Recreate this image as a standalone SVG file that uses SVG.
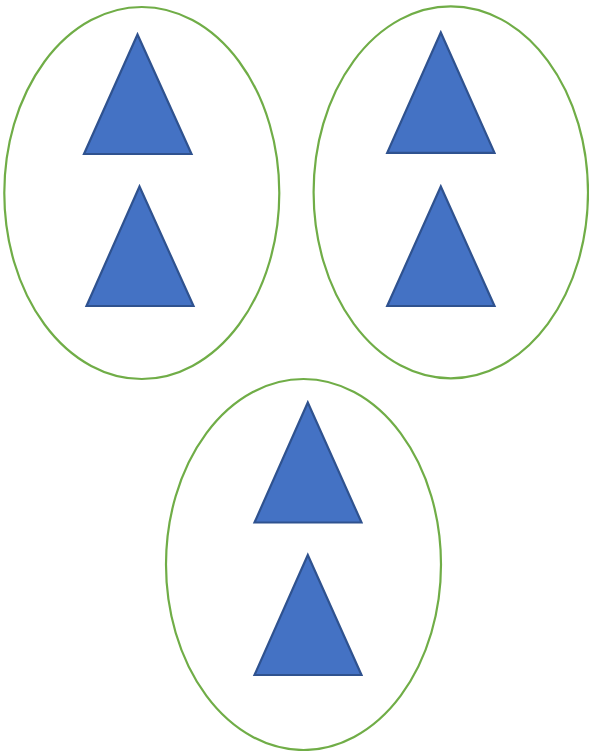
<svg xmlns="http://www.w3.org/2000/svg" width="589" height="751" viewBox="0 0 589 751">
<style>
.grp{fill:none;stroke:#70AD47;stroke-width:2.2}
.tri{fill:#4472C4;stroke:#2F528F;stroke-width:2.2;stroke-linejoin:miter}
</style>
<rect width="589" height="751" fill="#FFFFFF"/>
<g id="group-top-left">
<ellipse class="grp" cx="141.8" cy="193" rx="137.5" ry="186"/>
<g id="tri-tl-1"><polygon class="tri" points="137.5,34.5 84,154 191.5,154"/></g>
<g id="tri-tl-2"><polygon class="tri" points="139.5,186.5 86.5,306 193.5,306"/></g>
</g>
<g id="group-top-right">
<ellipse class="grp" cx="450.8" cy="192.3" rx="137.2" ry="186"/>
<g id="tri-tr-1"><polygon class="tri" points="440.8,32.5 387.2,152.8 494.5,152.8"/></g>
<g id="tri-tr-2"><polygon class="tri" points="440.8,186.5 387.2,306 494.5,306"/></g>
</g>
<g id="group-bottom">
<ellipse class="grp" cx="303.5" cy="564.5" rx="137.5" ry="185.5"/>
<g id="tri-b-1"><polygon class="tri" points="307.8,402.5 254.5,522.5 361.5,522.5"/></g>
<g id="tri-b-2"><polygon class="tri" points="307.8,555 254.5,675 361.5,675"/></g>
</g>
<g id="connectors"/>
</svg>
